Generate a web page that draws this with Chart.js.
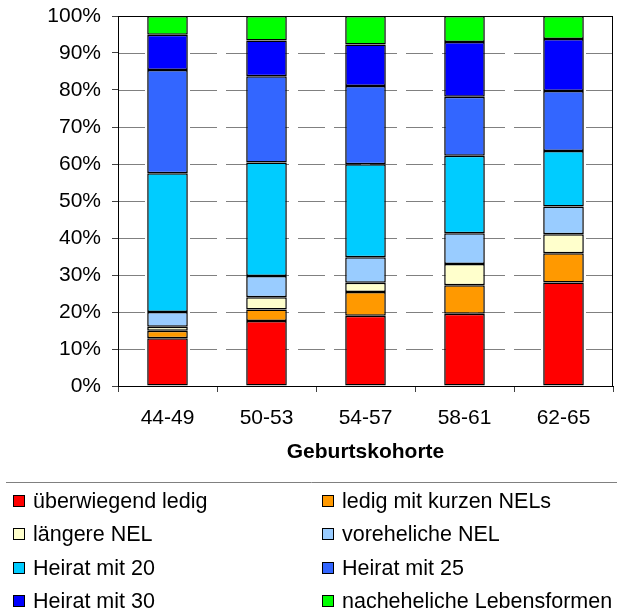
<!DOCTYPE html>
<html>
<head>
<meta charset="utf-8">
<script src="https://cdn.jsdelivr.net/npm/chart.js@4.4.1/dist/chart.umd.min.js"></script>
<style>
  html, body { margin: 0; padding: 0; background: #fff; }
</style>
</head>
<body>
<canvas id="chart" width="617" height="615"></canvas>
<script>
// Geburtskohorten und Anteile (%) je Lebensverlauf-Typ
const kohorten = ['44-49', '50-53', '54-57', '58-61', '62-65'];
const ueberwiegendLedig   = [12.9, 17.6, 19.0, 19.5, 28.0];
const ledigKurzeNEL       = [ 2.0,  3.1,  6.4,  7.7,  7.9];
const laengereNEL         = [ 1.1,  3.3,  2.5,  5.8,  5.1];
const voreheliche         = [ 4.0,  5.7,  6.9,  8.3,  7.5];
const heirat20            = [37.5, 30.7, 25.1, 20.9, 15.0];
const heirat25            = [27.9, 23.3, 21.2, 16.0, 16.2];
const heirat30            = [ 9.5,  9.7, 11.2, 14.8, 14.1];
const nacheheliche        = [ 5.1,  6.6,  7.7,  7.0,  6.2];

const FONT = "'Liberation Sans', Arial, sans-serif";

function ds(label, data, color) {
    return {
        label, data,
        backgroundColor: color,
        borderColor: '#000000',
        borderWidth: 1.5,
        borderSkipped: false,
        inflateAmount: 0,
        barPercentage: 0.41,
        categoryPercentage: 1.0
    };
}

// dashed y gridlines (drawn as segments) + frame around plot area
const frame = {
    id: 'frame',
    beforeDatasetsDraw(chart) {
        const { ctx, chartArea: a } = chart;
        const y = chart.scales.y;
        ctx.save();
        ctx.lineWidth = 1;
        ctx.strokeStyle = '#808080';
        y.ticks.forEach((t, i) => {
            const py = Math.round(y.getPixelForTick(i)) + 0.5;
            ctx.beginPath();
            for (let x = a.left; x < a.right; x += 36) {
                ctx.moveTo(x, py);
                ctx.lineTo(Math.min(x + 27, a.right), py);
            }
            ctx.stroke();
        });
        ctx.strokeStyle = '#000';
        ctx.strokeRect(Math.round(a.left) + 0.5, Math.round(a.top) + 0.5,
            Math.round(a.right - a.left) - 1, Math.round(a.bottom - a.top));
        ctx.restore();
    }
};

// two-column legend below the chart
const bottomLegend = {
    id: 'bottomLegend',
    afterDraw(chart) {
        const ctx = chart.ctx;
        ctx.save();
        ctx.strokeStyle = '#808080';
        ctx.lineWidth = 1;
        ctx.beginPath();
        ctx.moveTo(6, 482.5);
        ctx.lineTo(617, 482.5);
        ctx.stroke();

        ctx.font = '21.5px ' + FONT;
        ctx.textBaseline = 'middle';
        const colX = [13.5, 322.5];
        chart.data.datasets.forEach((d, i) => {
            const col = i % 2, row = Math.floor(i / 2);
            const y = 502 + row * 33.3;
            ctx.fillStyle = d.backgroundColor;
            ctx.fillRect(colX[col], Math.round(y) - 6.5, 11, 11);
            ctx.strokeStyle = '#000';
            ctx.strokeRect(colX[col], Math.round(y) - 6.5, 11, 11);
            ctx.fillStyle = '#000';
            ctx.fillText(d.label, colX[col] + 19.5, y);
        });
        ctx.restore();
    }
};

new Chart(document.getElementById('chart'), {
    type: 'bar',
    data: {
        labels: kohorten,
        datasets: [
            ds('überwiegend ledig', ueberwiegendLedig, '#ff0000'),
            ds('ledig mit kurzen NELs', ledigKurzeNEL, '#ff9900'),
            ds('längere NEL', laengereNEL, '#ffffcc'),
            ds('voreheliche NEL', voreheliche, '#99ccff'),
            ds('Heirat mit 20', heirat20, '#00ccff'),
            ds('Heirat mit 25', heirat25, '#3366ff'),
            ds('Heirat mit 30', heirat30, '#0000ff'),
            ds('nacheheliche Lebensformen', nacheheliche, '#00ff00')
        ]
    },
    options: {
        responsive: false,
        animation: false,
        layout: { padding: { top: 16, right: 4, left: 0, bottom: 145 } },
        scales: {
            x: {
                stacked: true,
                grid: { drawOnChartArea: false, drawTicks: true, tickLength: 6, tickColor: '#404040', offset: true },
                border: { display: true, color: '#000' },
                ticks: { color: '#000', padding: 14, font: { family: FONT, size: 21 } },
                title: {
                    display: true, text: 'Geburtskohorte', color: '#000',
                    font: { family: FONT, size: 21, weight: 'bold' },
                    padding: { top: 0, bottom: 5 }
                },
                afterFit: (s) => { s.height = 84; s.paddingLeft = 0; s.paddingRight = 0; }
            },
            y: {
                stacked: true,
                min: 0, max: 100,
                grid: { drawOnChartArea: false, drawTicks: true, tickLength: 6, tickColor: '#404040' },
                border: { display: true, color: '#000' },
                ticks: {
                    stepSize: 10, color: '#000', padding: 11,
                    font: { family: FONT, size: 21 },
                    callback: (v) => v + '%'
                },
                afterFit: (s) => { s.width = 118; s.paddingTop = 0; s.paddingBottom = 0; }
            }
        },
        plugins: {
            legend: { display: false },
            tooltip: { enabled: false }
        }
    },
    plugins: [frame, bottomLegend]
});
</script>
</body>
</html>
